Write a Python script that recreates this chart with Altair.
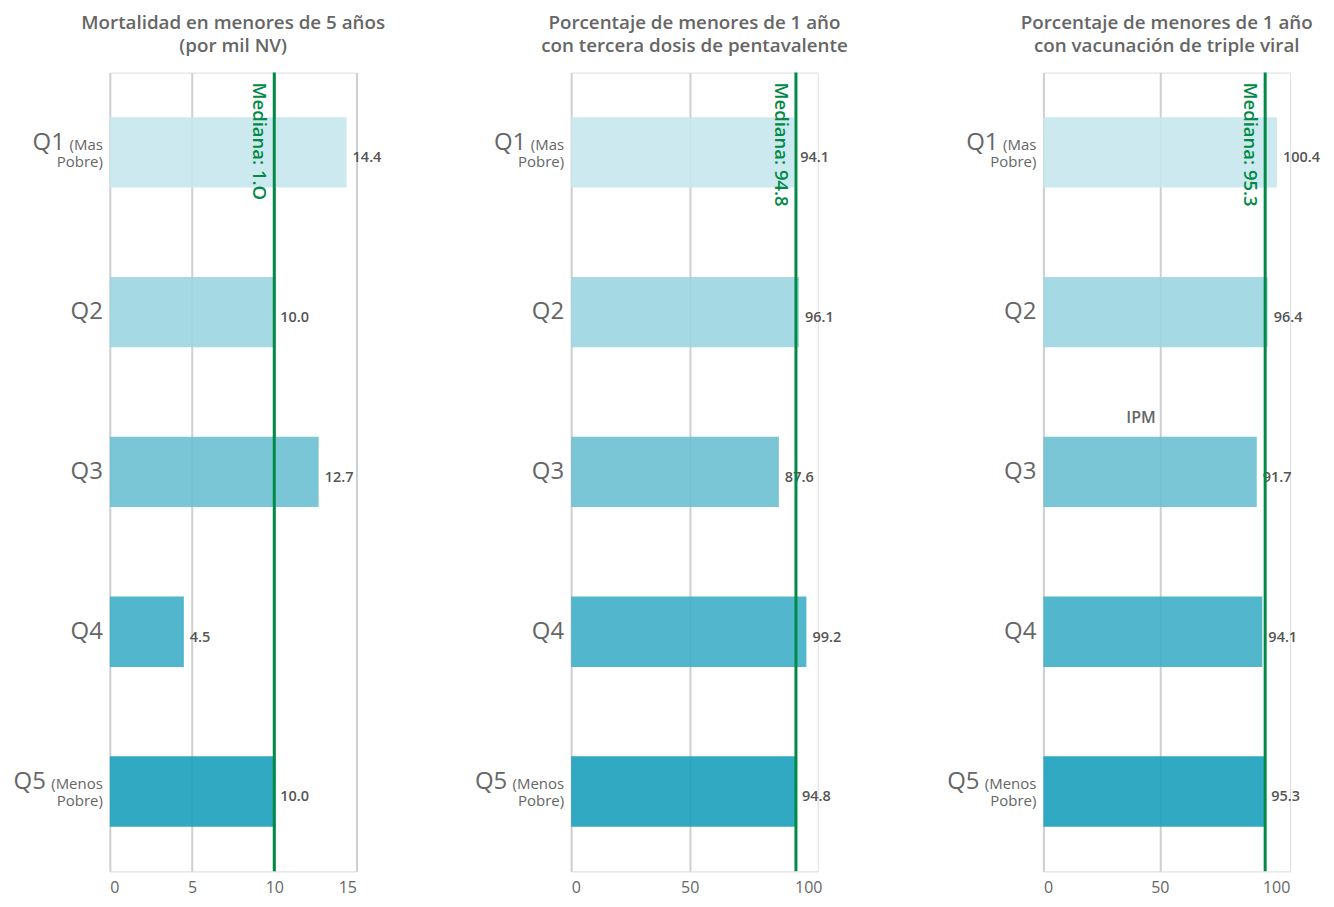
import altair as alt
import pandas as pd

FONT = "Open Sans"
GREEN = "#008a45"
GREY = "#666666"

quintiles = ["Q1", "Q2", "Q3", "Q4", "Q5"]
small_labels = [["(Mas", "Pobre)"], [], [], [], ["(Menos", "Pobre)"]]
mortalidad = [14.4, 10.0, 12.7, 4.5, 10.0]
pentavalente = [94.1, 96.1, 87.6, 99.2, 94.8]
triple_viral = [100.4, 96.4, 91.7, 94.1, 95.3]
medians = [10.0, 94.8, 95.3]
median_labels = ["Mediana: 1.O", "Mediana: 94.8", "Mediana: 95.3"]
titles = [
    ["Mortalidad en menores de 5 años", "(por mil NV)"],
    ["Porcentaje de menores de 1 año", "con tercera dosis de pentavalente"],
    ["Porcentaje de menores de 1 año", "con vacunación de triple viral"],
]
domains = [[0, 15], [0, 104], [0, 106]]
tick_values = [[0, 5, 10, 15], [0, 50, 100], [0, 50, 100]]
colors = ["#c8e7ee", "#9dd6e2", "#70c1d2", "#43b0c8", "#1fa2be"]


def panel(i, values, ipm=False):
    df = pd.DataFrame({"q": quintiles, "v": values, "small": small_labels})
    mdf = pd.DataFrame({"m": [medians[i]], "t": [median_labels[i]]})
    yenc = alt.Y("q:N", sort=quintiles, axis=None,
                 scale=alt.Scale(domain=quintiles, paddingInner=0.56, paddingOuter=0.28))
    xscale = alt.Scale(domain=domains[i], nice=False, zero=True)
    grid_op = {"condition": {"test": "datum.value >= 100", "value": 0}, "value": 1} if i > 0 else 1
    xaxis = alt.Axis(values=tick_values[i], title=None, ticks=False, domain=False,
                     labelPadding=8, labelFontSize=16, labelColor=GREY, labelFont=FONT,
                     gridColor="#cfcfcf", gridWidth=2, gridOpacity=grid_op)
    base = alt.Chart(df)
    bars = base.mark_bar(opacity=0.92).encode(
        x=alt.X("v:Q", scale=xscale, axis=xaxis),
        y=yenc,
        color=alt.Color("q:N", scale=alt.Scale(domain=quintiles, range=colors), legend=None),
    )
    vals = base.mark_text(align="left", baseline="middle", dx=6, dy=6, fontSize=14.5,
                          fontWeight=600, color="#555555", font=FONT).encode(
        x=alt.X("v:Q", title=None), y=yenc, text=alt.Text("v:Q", format=".1f"))
    rule = alt.Chart(mdf).mark_rule(color=GREEN, strokeWidth=3).encode(x=alt.X("m:Q", title=None))
    mtext = alt.Chart(mdf).mark_text(angle=90, align="left", baseline="top", dx=10, dy=6,
                                     fontSize=18.5, fontWeight=600, color=GREEN, font=FONT).encode(
        x=alt.X("m:Q", title=None), y=alt.value(0), text="t:N")
    big_mid = base.transform_filter("datum.q != 'Q1' && datum.q != 'Q5'").mark_text(
        align="right", baseline="middle", fontSize=24, color=GREY, font=FONT).encode(
        x=alt.value(-7), y=yenc, text="q:N")
    big_q1 = base.transform_filter("datum.q == 'Q1'").mark_text(
        align="right", baseline="middle", dy=-9, fontSize=24, color=GREY, font=FONT).encode(
        x=alt.value(-45), y=yenc, text="q:N")
    big_q5 = base.transform_filter("datum.q == 'Q5'").mark_text(
        align="right", baseline="middle", dy=-9, fontSize=24, color=GREY, font=FONT).encode(
        x=alt.value(-64), y=yenc, text="q:N")
    small = base.transform_filter("datum.q == 'Q1' || datum.q == 'Q5'").mark_text(
        align="right", baseline="middle", dy=-7, fontSize=15, lineHeight=17, color=GREY, font=FONT).encode(
        x=alt.value(-7), y=yenc, text="small:N")
    layers = [bars, vals, rule, mtext, big_mid, big_q1, big_q5, small]
    if ipm:
        ipm_t = base.transform_filter("datum.q == 'Q3'").transform_calculate(lbl="'IPM'").mark_text(
            align="right", baseline="middle", dx=-4, dy=-54, fontSize=16, fontWeight=600,
            color=GREY, font=FONT).encode(x=alt.datum(50), y=yenc, text="lbl:N")
        layers.append(ipm_t)
    return alt.layer(*layers).properties(
        width=247, height=800,
        title=alt.TitleParams(text=titles[i], anchor="middle", frame="group", fontSize=18.8,
                              fontWeight=600, color=GREY, font=FONT, offset=15, lineHeight=23),
    )


p1 = panel(0, mortalidad)
p2 = panel(1, pentavalente)
p3 = panel(2, triple_viral, ipm=True)

inner = alt.hconcat(p1, p2, spacing=215, bounds="flush")
chart = alt.hconcat(inner, p3, spacing=98).configure_view(
    stroke="#c8c8c8", strokeWidth=2.5
).configure(background="white")

chart.save("out.html", embed_options={"renderer": "svg", "actions": False})
